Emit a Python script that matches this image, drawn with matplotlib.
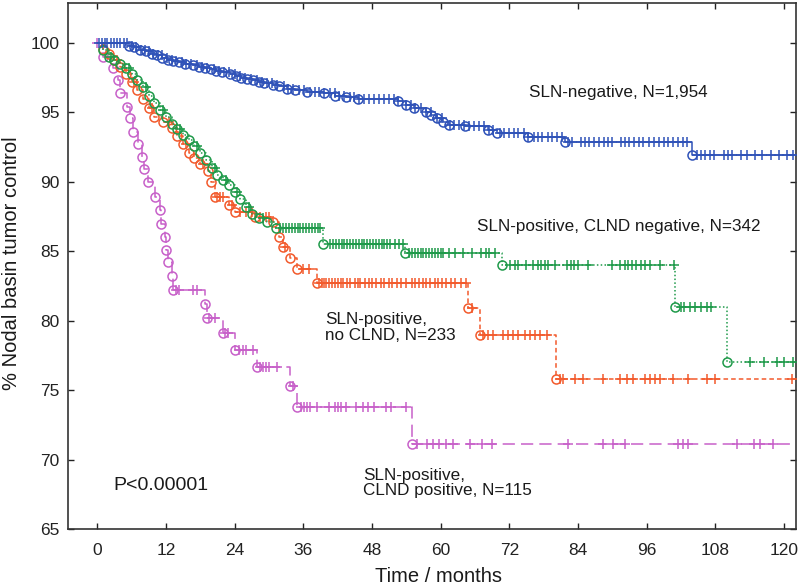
import numpy as np
import matplotlib
matplotlib.use("Agg")
import matplotlib.pyplot as plt

plt.rcParams['font.family'] = ['Liberation Sans', 'DejaVu Sans']

# SLN-negative, N=1,954
neg_event_t = [5.5, 6.5, 7.5, 8.5, 9.5, 10.5, 11.4, 12.4, 13.3, 14.3, 15.3, 16.8, 17.8, 18.8,
               19.8, 20.8, 21.8, 23.2, 24.2, 25.2, 26.2, 27.2, 28.2, 29.2, 30.7, 31.7, 33.1,
               34.6, 36.6, 39.6, 41.6, 43.5, 45.5, 52.5, 53.9, 55.4, 57.4, 58.4, 59.4, 60.4,
               61.4, 64.3, 68.3, 69.8, 75.2, 81.7, 103.9]
neg_event_s = [99.8, 99.7, 99.5, 99.4, 99.2, 99.1, 98.9, 98.8, 98.7, 98.6, 98.5, 98.4, 98.3, 98.2,
               98.1, 98.0, 97.9, 97.8, 97.6, 97.5, 97.4, 97.3, 97.2, 97.1, 97.0, 96.9, 96.7,
               96.6, 96.5, 96.4, 96.2, 96.1, 96.0, 95.8, 95.5, 95.3, 95.0, 94.8, 94.6, 94.3,
               94.1, 94.0, 93.7, 93.5, 93.2, 92.9, 91.9]
neg_censor_t = [0.3, 0.8, 1.3, 1.8, 2.4, 2.9, 3.5, 4.0, 4.6, 5.2, 6.0, 6.8, 7.7, 8.3, 9.1, 9.8,
                10.7, 11.3, 12.2, 13.0, 13.8, 14.9, 15.6, 16.4, 17.5, 18.3, 19.1, 20.4, 21.2,
                22.1, 23.0, 24.1, 25.0, 25.9, 26.8, 27.9, 28.8, 29.7, 30.6, 31.5, 32.6, 33.4,
                34.3, 35.3, 36.2, 37.1, 38.0, 38.8, 39.7, 40.6, 41.5, 42.3, 43.2, 44.1, 44.9,
                45.8, 46.7, 47.5, 48.4, 49.2, 50.1, 51.0, 51.8, 52.6, 53.9, 54.8, 55.6, 56.5,
                57.4, 58.3, 59.4, 60.3, 61.6, 62.4, 63.3, 64.1, 65.0, 65.8, 66.7, 67.5, 68.4,
                69.2, 70.3, 71.1, 71.9, 72.8, 73.6, 74.5, 75.2, 76.3, 77.0, 77.8, 78.7, 79.5,
                80.4, 81.3, 82.2, 83.0, 84.5, 85.3, 86.0, 86.8, 87.6, 88.5, 89.2, 90.0, 91.5,
                92.3, 93.0, 93.8, 94.6, 95.4, 96.5, 97.3, 98.1, 99.0, 99.8, 100.6, 101.5,
                102.3, 103.1, 104.8, 105.5, 106.2, 107.0, 107.8, 109.5, 110.3, 111.0, 112.5,
                113.5, 115.0, 116.2, 117.8, 119.2, 120.5, 121.6]

# SLN-positive, CLND negative, N=342
cneg_event_t = [1, 2, 3, 4, 5, 6, 7, 8, 9, 10, 11, 12, 13, 14, 15, 16, 17, 18, 19, 20, 21, 22,
                23, 24, 25, 26, 27, 28.3, 29.7, 31.3, 39.5, 53.8, 70.7, 101.0, 110.0]
cneg_event_s = [99.5, 99.0, 98.8, 98.5, 98.2, 97.8, 97.3, 96.8, 96.2, 95.7, 95.2, 94.7, 94.2,
                93.8, 93.4, 93.0, 92.6, 92.1, 91.6, 91.0, 90.5, 90.1, 89.8, 89.3, 88.8, 88.2,
                87.7, 87.4, 87.1, 86.7, 85.5, 84.9, 84.0, 81.0, 77.0]
cneg_censor_t = [2.5, 5.5, 8.5, 11.5, 14.5, 17.5, 20.5, 22.5, 24.5, 26.5, 29.0, 32.0, 32.5,
                 33.0, 33.5, 34.0, 34.5, 35.0, 35.5, 36.0, 36.5, 37.0, 37.5, 38.0, 38.5, 39.0,
                 40.7, 41.2, 41.7, 42.2, 42.7, 43.2, 43.7, 44.2, 44.7, 45.2, 45.7, 46.2, 46.7,
                 47.2, 47.7, 48.2, 48.7, 49.2, 49.7, 50.2, 50.7, 51.2, 52.0, 52.7, 53.4, 54.5,
                 55.0, 55.5, 56.0, 56.5, 57.0, 57.5, 58.0, 58.5, 59.0, 59.5, 60.0, 60.5, 61.5,
                 62.5, 64.0, 65.5, 67.0, 68.0, 68.5, 69.5, 72.1, 73.0, 73.6, 75.0, 76.2, 77.0,
                 77.5, 78.3, 78.8, 80.0, 82.1, 82.7, 83.3, 84.0, 85.8, 90.0, 91.4, 92.2, 92.8,
                 93.5, 94.2, 95.0, 95.8, 96.6, 98.3, 100.7, 102.0, 102.6, 103.5, 104.5, 105.5,
                 106.5, 107.2, 114.0, 116.5, 118.8, 120.0, 121.5]

# SLN-positive, no CLND, N=233
noclnd_event_t = [1, 2, 3, 4, 5, 6, 7, 8, 9, 10, 11.5, 13, 14, 15, 16, 17, 18, 19.3, 19.9, 20.5,
                  23, 24, 27.5, 30.8, 31.8, 32.5, 33.7, 34.9, 38.4, 64.8, 66.9, 80.2]
noclnd_event_s = [99.6, 99.2, 98.8, 98.3, 97.8, 97.2, 96.6, 96.0, 95.3, 94.7, 94.3, 93.9, 93.3,
                  92.7, 92.1, 91.7, 91.3, 90.8, 90.0, 88.9, 88.3, 87.8, 87.5, 87.1, 86.0, 85.3,
                  84.5, 83.7, 82.7, 80.9, 79.0, 75.8]
noclnd_censor_t = [3.5, 6.5, 9.5, 12.5, 15.5, 18.5, 21.0, 21.5, 22.0, 23.5, 25.0, 26.0, 27.0,
                   28.5, 29.5, 30.0, 32.8, 36.0, 37.0, 38.8, 39.2, 39.6, 40.0, 40.5, 41.0, 41.5,
                   42.0, 42.6, 43.0, 43.6, 44.2, 45.0, 45.5, 46.0, 46.8, 47.5, 48.0, 48.8, 49.6,
                   50.2, 51.0, 51.5, 52.3, 53.0, 54.0, 55.0, 55.6, 56.3, 57.0, 57.5, 58.2, 59.0,
                   59.5, 60.3, 61.0, 61.8, 62.5, 63.5, 64.5, 65.5, 67.4, 68.3, 69.2, 70.9, 71.8,
                   72.7, 73.5, 74.8, 75.6, 76.5, 77.4, 78.6, 80.9, 81.4, 83.5, 84.9, 88.4, 91.4,
                   92.6, 93.6, 95.7, 96.6, 97.5, 98.3, 100.6, 103.2, 106.6, 108.0, 121.4]

# SLN-positive, CLND positive, N=115
cpos_event_t = [1, 2.8, 3.6, 4.0, 5.2, 5.8, 6.2, 7.1, 7.8, 8.2, 8.9, 10.1, 10.9, 11.2, 11.9,
                12.1, 12.4, 13.1, 13.3, 18.9, 19.2, 22.0, 24.1, 27.9, 33.7, 34.9, 55.0]
cpos_event_s = [99.0, 98.2, 97.3, 96.4, 95.4, 94.6, 93.6, 92.7, 91.8, 90.9, 90.0, 88.9, 88.0,
                87.0, 86.0, 85.1, 84.2, 83.2, 82.2, 81.2, 80.2, 79.1, 77.9, 76.7, 75.3, 73.8,
                71.1]
cpos_censor_t = [0.0, 13.8, 14.3, 16.8, 17.5, 19.6, 20.6, 22.4, 22.9, 24.7, 25.4, 26.0, 27.2,
                 28.5, 29.0, 29.5, 30.0, 31.5, 34.2, 35.6, 36.1, 36.6, 37.2, 38.4, 40.5, 41.6,
                 42.1, 42.6, 43.5, 45.3, 46.5, 47.4, 48.3, 50.5, 51.3, 54.0, 55.9, 57.6, 58.6,
                 59.8, 61.0, 62.2, 65.1, 67.2, 69.0, 82.3, 88.3, 90.1, 92.2, 101.5, 102.4,
                 103.2, 111.8, 114.8, 115.8, 118.1]

x_ticks = [0, 12, 24, 36, 48, 60, 72, 84, 96, 108, 120]
y_ticks = [65, 70, 75, 80, 85, 90, 95, 100]
x_end = 122.1


def surv_at(event_t, event_s, times):
    """Step-function value of a KM curve at given times"""
    t = np.asarray(event_t)
    s = np.asarray(event_s)
    idx = np.searchsorted(t, times, side='right') - 1
    return np.where(idx >= 0, s[np.clip(idx, 0, None)], 100.0)


def plot_km(ax, event_t, event_s, censor_t, color, ls, z):
    """Draw one Kaplan-Meier curve with event circles and censor crosses"""
    x = [0] + list(event_t) + [x_end]
    y = [100] + list(event_s) + [event_s[-1]]
    ax.step(x, y, where='post', color=color, ls=ls, lw=1.1, zorder=z)
    ax.plot(event_t, event_s, 'o', mfc='none', mec=color, ms=6.5, mew=1.1, zorder=z)
    ax.plot(censor_t, surv_at(event_t, event_s, censor_t), '+', color=color,
            ms=7.5, mew=1.1, zorder=z)


def main():
    fig = plt.figure(figsize=(8, 5.88), dpi=100)
    ax = fig.add_axes([0.085, 0.1003, 0.91, 0.8946])

    plot_km(ax, cpos_event_t, cpos_event_s, cpos_censor_t, '#c760c9', (0, (8, 4)), 2)
    plot_km(ax, noclnd_event_t, noclnd_event_s, noclnd_censor_t, '#f25a2c', (0, (3, 2)), 3)
    plot_km(ax, cneg_event_t, cneg_event_s, cneg_censor_t, '#1f9a4a', (0, (1, 1.5)), 4)
    plot_km(ax, neg_event_t, neg_event_s, neg_censor_t, '#2f52b8', '-', 5)

    ax.set_xlim(-5.1, x_end)
    ax.set_ylim(65, 102.88)
    ax.set_xticks(x_ticks)
    ax.set_yticks(y_ticks)
    ax.tick_params(direction='in', top=True, right=True, length=4, width=1,
                   labelsize=12.5, colors='#222222')
    ax.tick_params(axis='x', pad=10)
    ax.tick_params(axis='y', pad=6)
    for sp in ax.spines.values():
        sp.set_color('#333333')
        sp.set_linewidth(1.2)

    txt = dict(fontsize=12.3, color='#1a1a1a')
    ax.text(91.0, 96.47, "SLN-negative, N=1,954", ha='center', va='center', **txt)
    ax.text(91.2, 86.75, "SLN-positive, CLND negative, N=342", ha='center', va='center', **txt)
    ax.text(39.8, 79.5, "SLN-positive,\nno CLND, N=233", ha='left', va='center',
            linespacing=1.05, **txt)
    ax.text(46.5, 68.31, "SLN-positive,\nCLND positive, N=115", ha='left', va='center',
            linespacing=1.05, **txt)
    ax.text(11.2, 68.17, "P<0.00001", ha='center', va='center', fontsize=14, color='#1a1a1a')

    fig.text(439 / 800, 1 - 577 / 588, "Time / months", ha='center', va='center',
             fontsize=14.5, color='#1a1a1a')
    fig.text(12 / 800, 1 - 263 / 588, "% Nodal basin tumor control", ha='center',
             va='center', rotation=90, fontsize=14.5, color='#1a1a1a')

    fig.savefig("out.png", dpi=100)


if __name__ == "__main__":
    main()
